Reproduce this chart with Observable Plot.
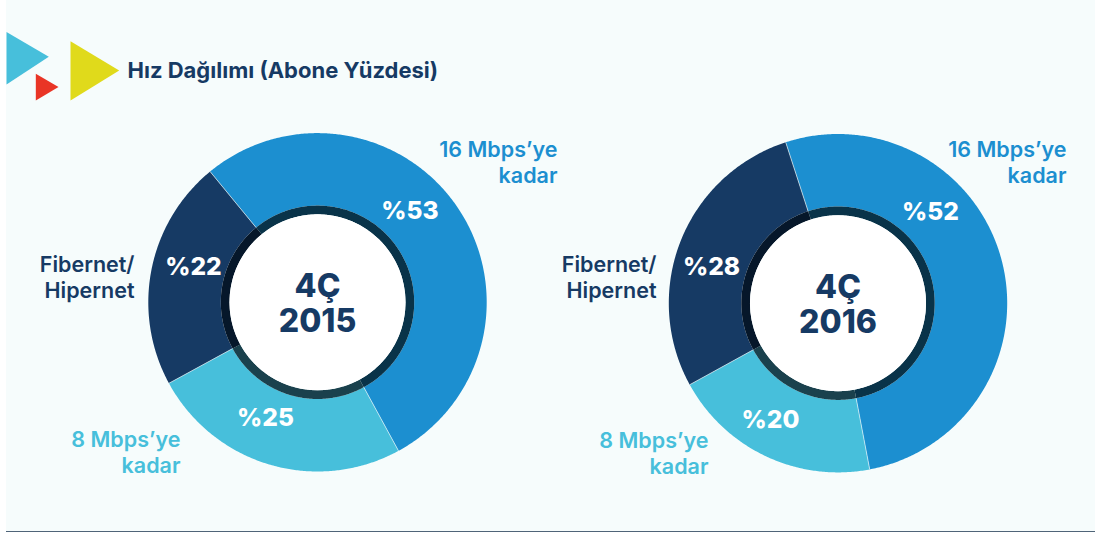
<!DOCTYPE html>
<html>
<head>
<meta charset="utf-8">
<script src="https://cdn.jsdelivr.net/npm/d3@7"></script>
<script src="https://cdn.jsdelivr.net/npm/@observablehq/plot@0.6"></script>
<style>html,body{margin:0;padding:0;background:#fff}svg{display:block}</style>
</head>
<body>
<div id="chart"></div>
<script>
const categories = ["16 Mbps’ye\nkadar", "8 Mbps’ye\nkadar", "Fibernet/\nHipernet"];
const periods = ["4Ç\n2015", "4Ç\n2016"];
const values2015 = [53, 25, 22];
const values2016 = [52, 20, 28];
const chartTitle = "Hız Dağılımı (Abone Yüzdesi)";

const sliceColors = ["#1c8fd0", "#47bfdb", "#163a64"];
const ringColors = ["#093349", "#1a414d", "#06172a"];
const W = 1098, H = 533, R = 169.2, RING = 96.7, HOLE = 88;
const font = "Inter, sans-serif";
const layout = [
  {cx: 317, cy: 301.8, start: -39.4, values: values2015, period: periods[0],
   pct: [[409.5, 211], [265, 418], [193, 267]], cat: [[557, 161], [180, 451], [134, 276]]},
  {cx: 837.5, cy: 302.7, start: -18, values: values2016, period: periods[1],
   pct: [[930, 212], [770, 420], [711, 267]], cat: [[1066, 161], [708, 452], [656, 276]]}
];

const pieGen = d3.pie().sort(null);
const slices = [], seams = [], pctLabels = [], catLabels = [], centers = [];
layout.forEach((c, ci) => {
  const arcs = pieGen.startAngle(c.start * Math.PI / 180).endAngle((c.start + 360) * Math.PI / 180)(c.values);
  const pt = (a, r) => [c.cx + r * Math.sin(a), c.cy - r * Math.cos(a)];
  arcs.forEach((arc, i) => {
    const n = Math.ceil((arc.endAngle - arc.startAngle) * 180 / Math.PI * 2);
    const ang = d3.range(n + 1).map(k => arc.startAngle + (arc.endAngle - arc.startAngle) * k / n);
    const band = (key, r0, r1, color) => {
      ang.forEach(a => { const p = pt(a, r1); slices.push({key, color, x: p[0], y: p[1]}); });
      ang.slice().reverse().forEach(a => { const p = pt(a, r0); slices.push({key, color, x: p[0], y: p[1]}); });
    };
    band(`s${ci}-${i}`, RING, R, sliceColors[i]);
    band(`r${ci}-${i}`, HOLE, RING, ringColors[i]);
    const a = pt(arc.startAngle, RING), b = pt(arc.startAngle, R);
    seams.push({x1: a[0], y1: a[1], x2: b[0], y2: b[1]});
    pctLabels.push({x: c.pct[i][0], y: c.pct[i][1], text: `%${c.values[i]}`});
    catLabels.push({x: c.cat[i][0], y: c.cat[i][1], text: categories[i], color: sliceColors[i]});
  });
  centers.push({x: c.cx, y: c.cy + 1, text: c.period});
});

const triangles = [
  {key: "a", color: "#47bfdb", pts: [[6, 31.5], [48.3, 56.3], [6, 84]]},
  {key: "b", color: "#e93526", pts: [[35.3, 73.3], [58, 86.5], [35.3, 100]]},
  {key: "c", color: "#e0da1b", pts: [[70, 40.7], [118.7, 70], [70, 100]]}
].flatMap(t => t.pts.map(p => ({key: t.key, color: t.color, x: p[0], y: p[1]})));

const chart = Plot.plot({
  width: W, height: H, margin: 0,
  x: {domain: [0, W], range: [0, W], axis: null},
  y: {domain: [0, H], range: [0, H], axis: null},
  style: {background: "transparent"},
  marks: [
    Plot.rectY([0], {x1: () => 6, x2: () => 1095, y1: () => 0, y2: () => 531, fill: "#f6fcfc"}),
    Plot.ruleY([531], {x1: 6, x2: 1095, stroke: "#4f6478", strokeWidth: 1}),
    Plot.line(triangles, {x: "x", y: "y", z: "key", fill: "color", stroke: "none"}),
    Plot.line(slices, {x: "x", y: "y", z: "key", fill: "color", stroke: "none"}),
    Plot.link(seams, {x1: "x1", y1: "y1", x2: "x2", y2: "y2", stroke: "#dff2f8", strokeWidth: 0.7}),
    Plot.dot(centers, {x: "x", y: d => d.y - 1, r: HOLE, fill: "#fff", stroke: "none"}),
    Plot.text(centers, {x: "x", y: "y", text: "text", fill: "#163a64", fontFamily: font, fontWeight: 800, fontSize: 32, lineHeight: 1.09, textAnchor: "middle"}),
    Plot.text(pctLabels, {x: "x", y: "y", text: "text", fill: "#fff", fontFamily: font, fontWeight: 800, fontSize: 24.5, textAnchor: "middle"}),
    Plot.text(catLabels, {x: "x", y: "y", text: "text", fill: "color", fontFamily: font, fontWeight: 600, fontSize: 21.5, lineHeight: 1.21, textAnchor: "end"}),
    Plot.text([chartTitle], {x: () => 127, y: () => 70, text: d => d, fill: "#163a64", fontFamily: font, fontWeight: 700, fontSize: 22, textAnchor: "start"})
  ]
});
document.getElementById("chart").appendChild(chart);
</script>
</body>
</html>
